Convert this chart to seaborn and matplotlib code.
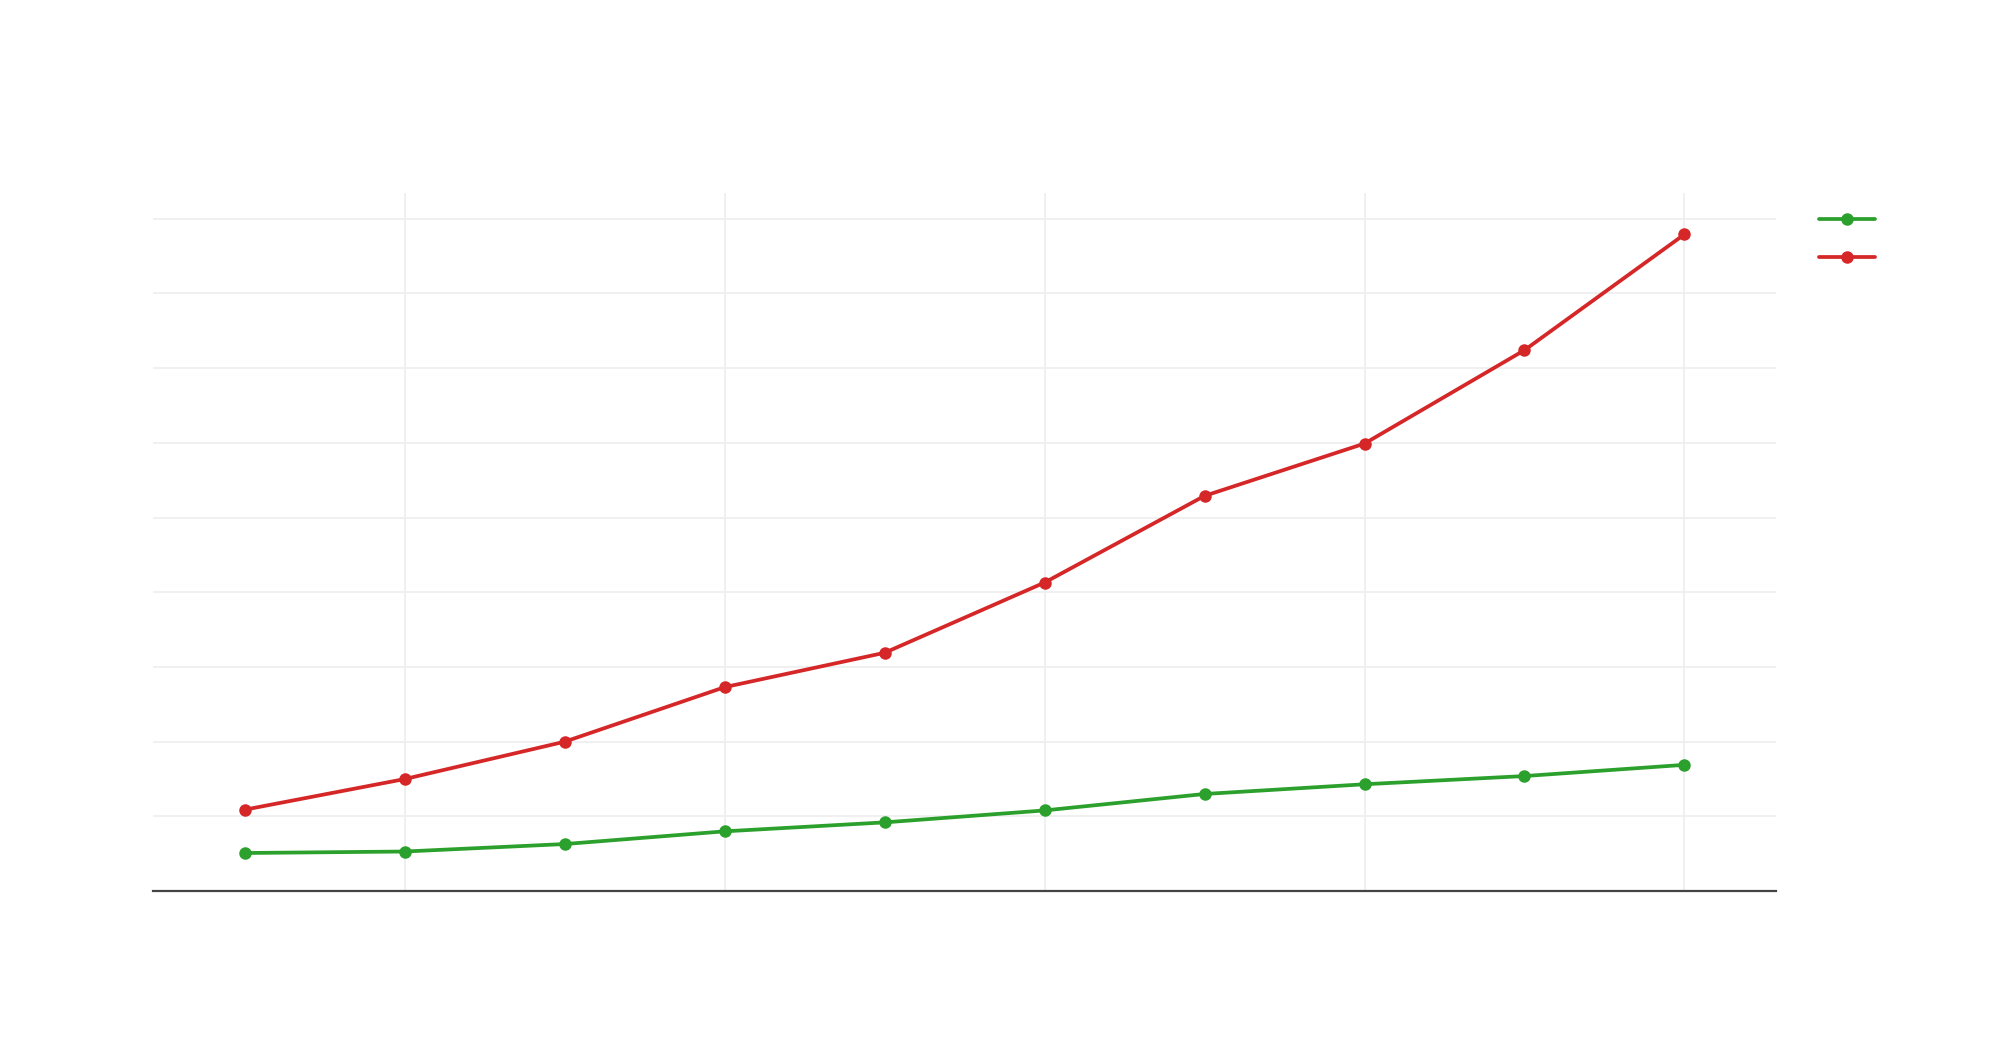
import matplotlib
matplotlib.use("Agg")
import pandas as pd
import matplotlib.pyplot as plt
import seaborn as sns
from matplotlib.lines import Line2D

# Values (one gridline step = 10 units)
periods = [0, 1, 2, 3, 4, 5, 6, 7, 8, 9]
green_vals = [5.1, 5.3, 6.3, 8.0, 9.2, 10.8, 13.0, 14.3, 15.4, 16.9]
red_vals = [10.9, 15.0, 20.0, 27.3, 31.9, 41.3, 52.9, 59.9, 72.4, 87.9]
series_names = ["green", "red"]
colors = {"green": "#2ca02c", "red": "#d62728"}
x_ticks = [1, 3, 5, 7, 9]
y_ticks = [0, 10, 20, 30, 40, 50, 60, 70, 80, 90]

df = pd.DataFrame({
    "period": periods * 2,
    "value": green_vals + red_vals,
    "series": ["green"] * len(green_vals) + ["red"] * len(red_vals),
})

sns.set_style("white")
fig = plt.figure(figsize=(20, 10.48), dpi=100)
ax = fig.add_axes([0.0765, 0.1497, 0.8113, 0.6666])

sns.lineplot(data=df, x="period", y="value", hue="series", hue_order=series_names,
             palette=colors, marker="o", markersize=9, markeredgewidth=0,
             linewidth=2.7, legend=False, ax=ax)

ax.set_xlim(-0.574, 9.57)
ax.set_ylim(0, 93.5)
ax.set_xticks(x_ticks)
ax.set_yticks(y_ticks)
ax.set_xticklabels([])
ax.set_yticklabels([])
ax.set_xlabel("")
ax.set_ylabel("")
ax.grid(True, color="#eeeeee", linewidth=1.2)
ax.set_axisbelow(True)
ax.tick_params(axis="x", length=4, width=1.2, color="#eeeeee")
ax.tick_params(axis="y", length=0)
for side in ["top", "right", "left"]:
    ax.spines[side].set_visible(False)
ax.spines["bottom"].set_color("#444444")
ax.spines["bottom"].set_linewidth(1.6)
ax.spines["bottom"].set_zorder(5)

handles = [Line2D([], [], color=colors[s], linewidth=2.7, marker="o",
                  markersize=9, markeredgewidth=0) for s in series_names]
fig.legend(handles, [" ", " "], loc="upper left", bbox_to_anchor=(0.9095, 0.7985),
           frameon=False, borderpad=0, borderaxespad=0, handlelength=3.35,
           fontsize=12, labelspacing=1.15, handletextpad=0.5)

fig.savefig("out.png", dpi=100, facecolor="white")
